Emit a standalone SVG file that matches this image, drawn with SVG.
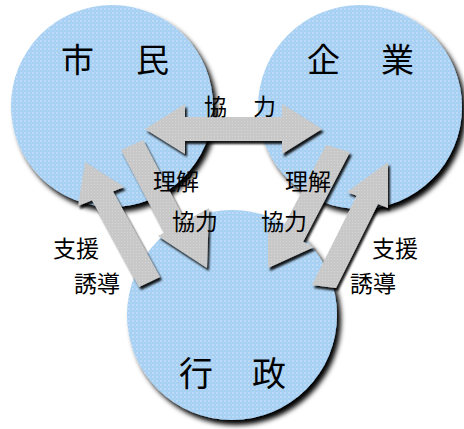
<svg xmlns="http://www.w3.org/2000/svg" width="464" height="429" viewBox="0 0 464 429">
  <defs>
    <pattern id="dots" width="4" height="4" patternUnits="userSpaceOnUse">
      <rect width="4" height="4" fill="#a7cff3"/>
      <circle cx="1" cy="1" r="0.8" fill="#d9ecfb"/>
      <circle cx="3" cy="3" r="0.6" fill="#b4e6f2"/>
    </pattern>
    <pattern id="grain" width="3" height="3" patternUnits="userSpaceOnUse">
      <rect width="3" height="3" fill="#c8c8c8"/>
      <rect x="1" y="1" width="1" height="1" fill="#d6d6d6"/>
    </pattern>
    <filter id="cshadow" x="-10%" y="-10%" width="125%" height="125%">
      <feGaussianBlur in="SourceAlpha" stdDeviation="2.4"/>
      <feOffset dx="4" dy="5" result="o"/>
      <feFlood flood-color="#000" flood-opacity="1"/>
      <feComposite in2="o" operator="in"/>
      <feMerge><feMergeNode/><feMergeNode in="SourceGraphic"/></feMerge>
    </filter>
    <filter id="ashadow" x="-20%" y="-20%" width="140%" height="140%">
      <feGaussianBlur in="SourceAlpha" stdDeviation="1.1"/>
      <feOffset dx="2" dy="3" result="o"/>
      <feFlood flood-color="#000" flood-opacity="0.9"/>
      <feComposite in2="o" operator="in"/>
      <feMerge><feMergeNode/><feMergeNode in="SourceGraphic"/></feMerge>
    </filter>
  </defs>
  <style>
    .node { fill: url(#dots); filter: url(#cshadow); }
    .arrow { fill: url(#grain); filter: url(#ashadow); }
    text { font-family: "Noto Sans CJK JP", "Noto Sans CJK SC", sans-serif; fill: #000; dominant-baseline: central; }
    .big { font-size: 33px; }
    .lbl { font-size: 23px; }
  </style>

  <g id="node-shimin">
    <circle class="node" cx="112" cy="106" r="101"/>
    <text class="big" x="61 99 136" y="58">市 民</text>
  </g>
  <g id="node-kigyo">
    <circle class="node" cx="360" cy="107" r="102"/>
    <text class="big" x="307 345 381" y="58">企 業</text>
  </g>
  <g id="node-gyosei">
    <circle class="node" cx="232" cy="315" r="105"/>
    <text class="big" style="font-size:34px" x="179 215 252" y="371">行 政</text>
  </g>

  <g id="connectors">
    <polygon class="arrow" points="145,129 185,104 185,117 282,117 282,104 322,129 282,154 282,141 185,141 185,154"/>
    <polygon class="arrow" points="143,140 185.4,220.9 209,208 207,268 158,236 164.3,232.5 121,150"/>
    <polygon class="arrow" points="160,277 113,191.6 124,187 85,162 78,206 92,200.2 139,287"/>
    <polygon class="arrow" points="350,152 303.1,241.8 314,247 268,268 268,225 281,231.2 326,145"/>
    <polygon class="arrow" points="312,285 356.6,195.8 347,192 388,162 388,208 378,204.1 336,288"/>
  </g>

  <g id="labels">
    <text class="lbl" x="204 230 253" y="105">協 力</text>
    <text class="lbl" x="153" y="180">理解</text>
    <text class="lbl" x="285" y="180">理解</text>
    <text class="lbl" x="172" y="220">協力</text>
    <text class="lbl" x="261" y="220">協力</text>
    <text class="lbl" x="53" y="247">支援</text>
    <text class="lbl" x="74" y="282">誘導</text>
    <text class="lbl" x="372" y="247">支援</text>
    <text class="lbl" x="350" y="282">誘導</text>
  </g>
</svg>
